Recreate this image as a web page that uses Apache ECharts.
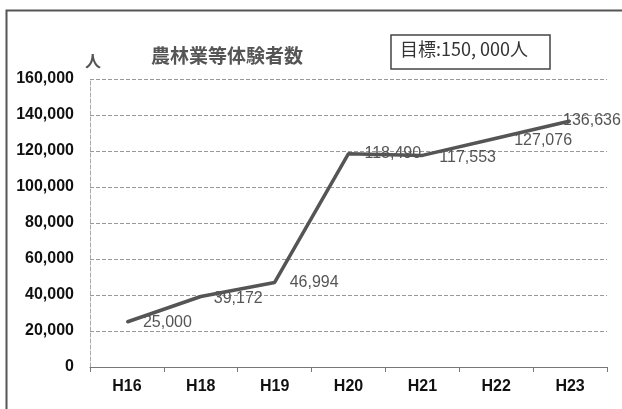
<!DOCTYPE html>
<html><head><meta charset="utf-8">
<script src="https://cdn.jsdelivr.net/npm/echarts@6/dist/echarts.min.js"></script>
<style>html,body{margin:0;padding:0;background:#fff}#c{width:622px;height:409px}</style>
</head><body><div id="c"></div>
<script>
const categories = ['H16','H18','H19','H20','H21','H22','H23'];
const values = [25000, 39172, 46994, 118490, 117553, 127076, 136636];
const yTicks = [0, 20000, 40000, 60000, 80000, 100000, 120000, 140000, 160000];
const titleText = '農林業等体験者数';
const unitText = '人';
const targetText = '目標:150, 000人';

const labelOffsets = [[1,1],[-2,2],[0,0],[1,0],[2,2],[3,2],[-22,0]];

const chart = echarts.init(document.getElementById('c'), null, {renderer:'canvas'});
chart.setOption({
  animation:false,
  backgroundColor:'#fff',
  grid:{left:90, right:15, top:79, bottom:42},
  xAxis:{
    type:'category', data:categories, boundaryGap:true,
    axisLine:{lineStyle:{color:'#777', width:1}},
    axisTick:{show:true, length:5, lineStyle:{color:'#777'}},
    axisLabel:{color:'#111', fontSize:16, fontWeight:'bold', fontFamily:'Liberation Sans', margin:12}
  },
  yAxis:{
    type:'value', min:yTicks[0], max:yTicks[yTicks.length-1], interval:20000,
    axisLine:{show:true, lineStyle:{color:'#aaa', type:'dashed', width:1}},
    axisTick:{show:false},
    splitLine:{lineStyle:{color:'#999', type:'dashed', width:1}},
    axisLabel:{color:'#111', fontSize:16, fontWeight:'bold', fontFamily:'Liberation Sans', margin:16,
      formatter:v=>v.toLocaleString('en-US')}
  },
  series:[{
    type:'line',
    data:values.map((v,i)=>({value:v, label:{offset:labelOffsets[i]}})),
    symbol:'circle', symbolSize:2, showSymbol:true,
    itemStyle:{color:'#555'},
    lineStyle:{color:'#555', width:3.5},
    label:{show:true, position:'right', distance:14, color:'#555', fontSize:16,
      fontFamily:'Liberation Sans', formatter:p=>p.value.toLocaleString('en-US')}
  }],
  graphic:[
    {type:'rect', shape:{x:6.5, y:10.5, width:640, height:420}, style:{fill:'none', stroke:'#555', lineWidth:2}},
    {type:'text', left:151, top:46, style:{text:titleText, fill:'#555', font:'bold 19px "Noto Sans CJK JP"'}},
    {type:'text', left:85, top:53, style:{text:unitText, fill:'#555', font:'bold 16px "Noto Sans CJK JP"'}},
    {type:'rect', shape:{x:391, y:35, width:159, height:34}, style:{fill:'#fff', stroke:'#444', lineWidth:1.5}},
    {type:'text', left:400, top:40, style:{text:targetText, fill:'#333', font:'18px "Noto Sans CJK JP"'}}
  ]
});
</script></body></html>
